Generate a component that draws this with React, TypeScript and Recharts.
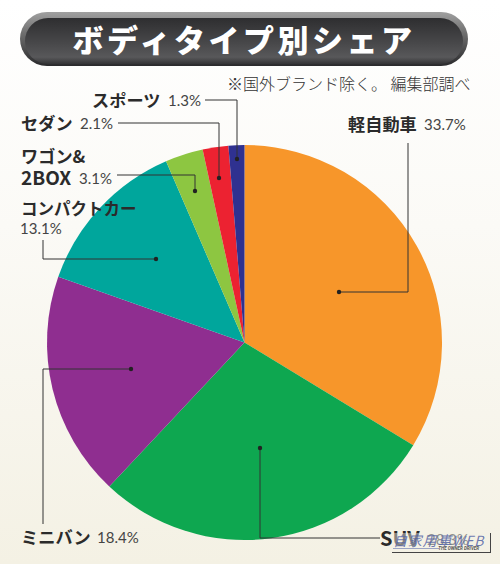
import { PieChart, Pie, Cell } from 'recharts'

const names = ['軽自動車', 'SUV', 'ミニバン', 'コンパクトカー', 'ワゴン&2BOX', 'セダン', 'スポーツ']
const shares = [33.7, 28.3, 18.4, 13.1, 3.1, 2.1, 1.3]
const colors = ['#f7962a', '#0ea750', '#8f2e90', '#00a69c', '#8dc641', '#ec2231', '#2f3190']

const data = names.map((name, i) => ({ name, value: shares[i] }))

const sans = '"Noto Sans CJK JP", sans-serif'
const num = 'Lato, "Noto Sans", sans-serif'
const ink = '#2b2b2b'

// leader line elbows and label positions, one per slice
const leaders = [
  { path: 'M339 292H408V143', lines: [{ t: '軽自動車', x: 348, y: 131, s: 17.2 }], pct: { x: 424, y: 130 } },
  { path: 'M260 448V538H380', lines: [{ t: 'SUV', x: 380, y: 546, s: 20 }], pct: { x: 427, y: 545 } },
  { path: 'M131 369H43V524', lines: [{ t: 'ミニバン', x: 21, y: 544, s: 17.2 }], pct: { x: 97, y: 543 } },
  { path: 'M156 259H43V240', lines: [{ t: 'コンパクトカー', x: 21, y: 215, s: 16.5 }], pct: { x: 20, y: 234 } },
  { path: 'M195 191V175H117', lines: [{ t: 'ワゴン&', x: 21, y: 163, s: 17.2 }, { t: '2BOX', x: 21, y: 185, s: 19 }], pct: { x: 79, y: 184 } },
  { path: 'M219 178V123H118', lines: [{ t: 'セダン', x: 21, y: 130, s: 17.2 }], pct: { x: 80, y: 129 } },
  { path: 'M237 159V100H205', lines: [{ t: 'スポーツ', x: 92, y: 107, s: 17.2 }], pct: { x: 168, y: 106 } },
]

function SliceLabel({ index, value }: any) {
  const l = leaders[index]
  const dot = l.path.slice(1).split(/[HV]/)[0].split(' ').map(Number)
  return (
    <g>
      <path d={l.path} fill="none" stroke="#333" strokeWidth={1} />
      <circle cx={dot[0]} cy={dot[1]} r={2.2} fill="#222" />
      {l.lines.map((ln) => (
        <text key={ln.t} x={ln.x} y={ln.y} fontFamily={sans} fontWeight={700} fontSize={ln.s} fill={ink}>
          {ln.t}
        </text>
      ))}
      <text x={l.pct.x} y={l.pct.y} fontFamily={num} fontWeight={400} fontSize={15} fill="#444">
        {value.toFixed(1)}%
      </text>
    </g>
  )
}

export default function App() {
  return (
    <div
      style={{
        position: 'absolute',
        left: 0,
        top: 0,
        width: 500,
        height: 564,
        overflow: 'hidden',
        background: 'linear-gradient(#ffffff 0%, #fbfaf6 40%, #f4f1e4 100%)',
      }}
    >
      <div
        style={{
          position: 'absolute',
          left: 20,
          top: 12,
          width: 448,
          height: 54,
          borderRadius: 27,
          background: 'linear-gradient(#a0a0a0 0%, #6e6e6e 40%, #2a2a2c 100%)',
        }}
      >
        <div
          style={{
            position: 'absolute',
            left: 5,
            top: 6,
            right: 5,
            bottom: 2,
            borderRadius: 23,
            background: 'linear-gradient(#2e2e30 0%, #48484a 55%, #58585a 85%, #343436 100%)',
          }}
        />
        <div
          style={{
            position: 'absolute',
            left: 0,
            top: 0,
            width: '100%',
            color: '#fff',
            fontFamily: sans,
            fontWeight: 900,
            fontSize: 31,
            letterSpacing: 3.5,
            lineHeight: '54px',
            textAlign: 'center',
          }}
        >
          ボディタイプ別シェア
        </div>
      </div>
      <div
        style={{
          position: 'absolute',
          left: 227,
          top: 71,
          fontFamily: sans,
          fontWeight: 300,
          fontSize: 16,
          lineHeight: '24px',
          color: '#333',
          whiteSpace: 'nowrap',
        }}
      >
        ※国外ブランド除く。 編集部調べ
      </div>
      <div style={{ position: 'absolute', left: 0, top: 0 }}>
        <PieChart width={500} height={564} margin={{ top: 0, right: 0, bottom: 0, left: 0 }}>
          <Pie
            data={data}
            dataKey="value"
            nameKey="name"
            cx={244.5}
            cy={342.5}
            outerRadius={197.5}
            startAngle={90}
            endAngle={-270}
            stroke="none"
            label={SliceLabel}
            labelLine={false}
            isAnimationActive={false}
          >
            {data.map((d, i) => (
              <Cell key={d.name} fill={colors[i]} />
            ))}
          </Pie>
        </PieChart>
      </div>
      {/* site watermark sits on top of the SUV label in the original */}
      <div
        style={{
          position: 'absolute',
          left: 392,
          top: 533,
          width: 99,
          height: 20,
          background: 'rgba(244,241,228,0.45)',
          borderRight: '1px solid #444',
          borderBottom: '1px solid #444',
          boxSizing: 'border-box',
        }}
      >
        <div
          style={{
            position: 'absolute',
            left: 1,
            top: -1,
            fontFamily: sans,
            fontStyle: 'italic',
            fontWeight: 400,
            fontSize: 14,
            letterSpacing: 0.8,
            lineHeight: '16px',
            color: 'rgba(84,100,165,0.85)',
            whiteSpace: 'nowrap',
          }}
        >
          自家用車WEB
        </div>
        <div style={{ position: 'absolute', left: 1, top: 15, width: 46, height: 1, background: '#9aa3c4' }} />
        <div
          style={{
            position: 'absolute',
            right: 11,
            top: 13,
            fontFamily: 'Roboto, sans-serif',
            fontStyle: 'italic',
            fontWeight: 700,
            fontSize: 4.5,
            lineHeight: '6px',
            color: '#555',
            whiteSpace: 'nowrap',
          }}
        >
          THE OWNER DRIVER
        </div>
      </div>
    </div>
  )
}
